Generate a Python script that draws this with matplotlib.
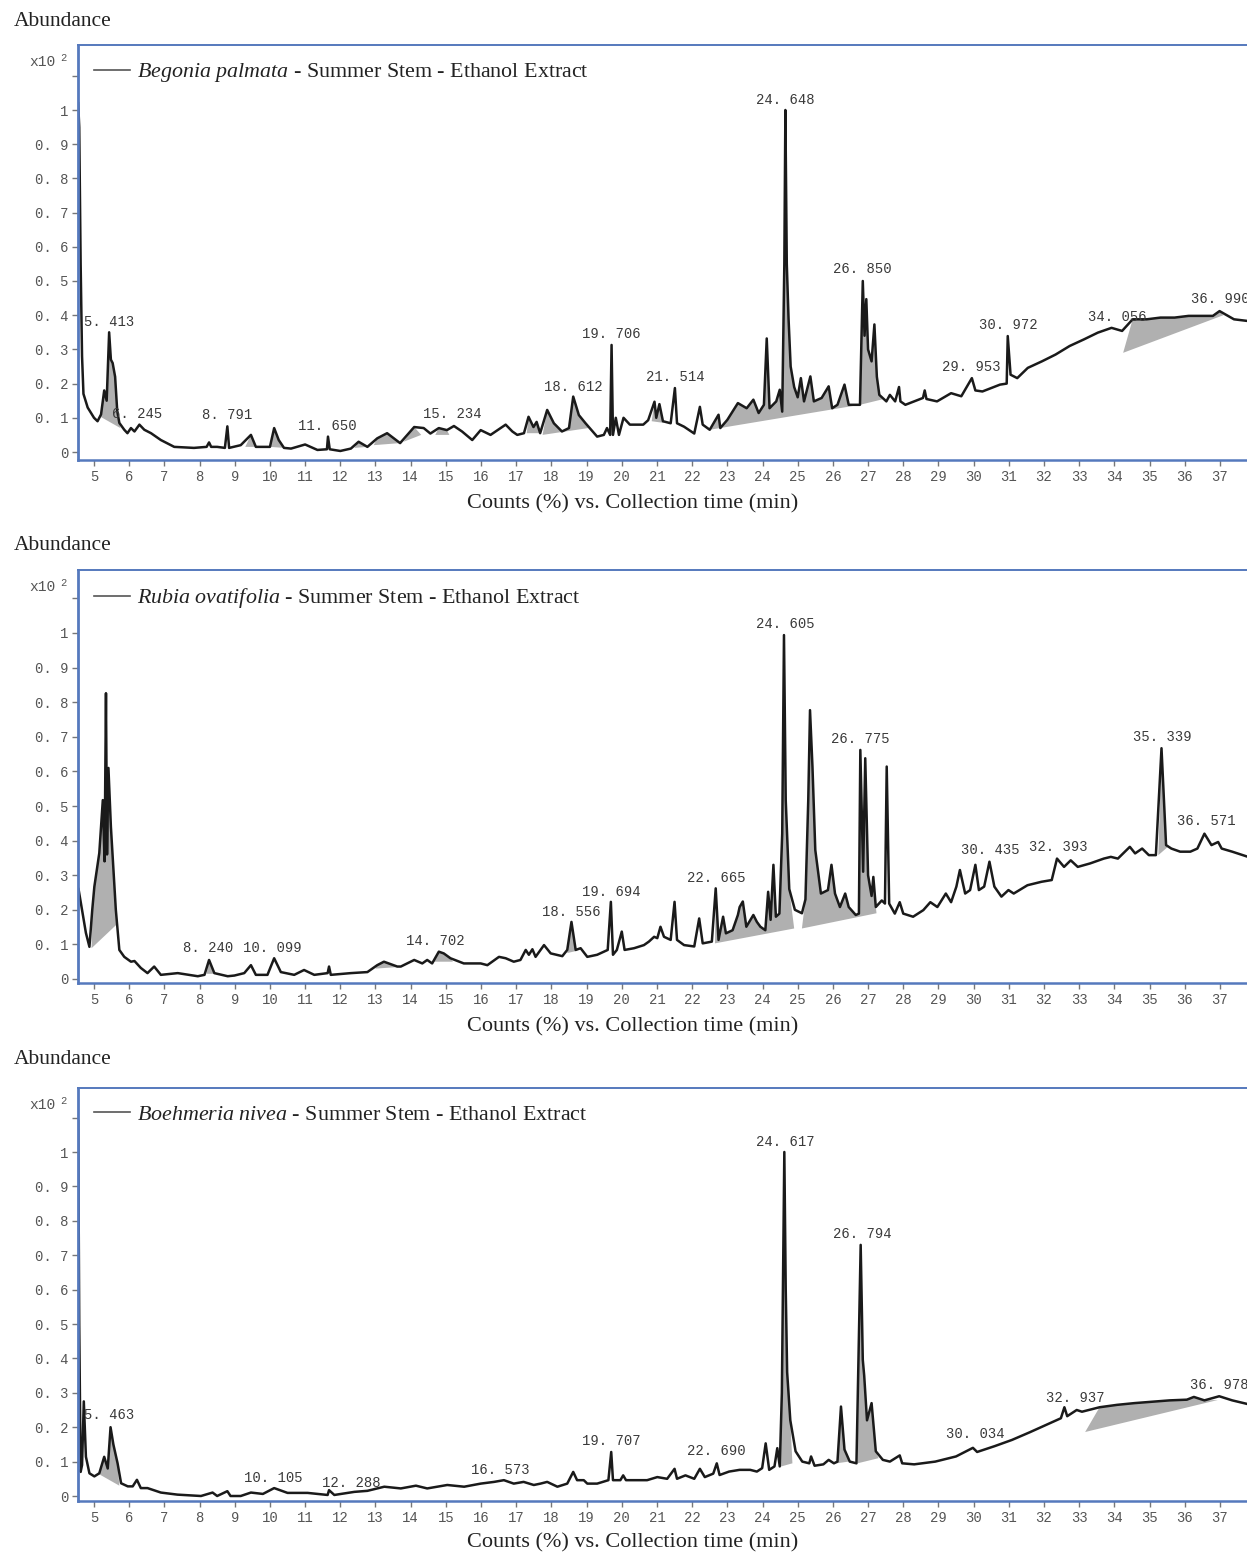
import matplotlib.pyplot as plt
from matplotlib.ticker import FixedLocator, FixedFormatter

plt.rcParams["mathtext.fontset"] = "custom"
plt.rcParams["mathtext.it"] = "Liberation Serif:italic"
plt.rcParams["mathtext.rm"] = "Liberation Serif"

# chromatogram traces: (collection time [min], abundance x10^2)
begonia_trace = [
    (4.55, 1.02), (4.58, 0.95), (4.62, 0.55), (4.66, 0.28), (4.70, 0.17), (4.82, 0.13),
    (5.0, 0.10), (5.1, 0.09), (5.2, 0.11), (5.29, 0.18), (5.36, 0.15), (5.43, 0.35),
    (5.48, 0.27), (5.53, 0.26), (5.6, 0.22), (5.66, 0.12), (5.72, 0.085), (5.86, 0.065),
    (5.95, 0.055), (6.05, 0.07), (6.15, 0.06), (6.29, 0.08), (6.43, 0.065), (6.62, 0.055),
    (6.9, 0.035), (7.28, 0.015), (7.84, 0.012), (8.2, 0.015), (8.27, 0.028), (8.33, 0.015),
    (8.5, 0.015), (8.72, 0.012), (8.79, 0.075), (8.84, 0.012), (9.17, 0.02), (9.46, 0.05),
    (9.6, 0.015), (10.0, 0.015), (10.12, 0.07), (10.25, 0.035), (10.4, 0.012), (10.6, 0.01),
    (11.0, 0.022), (11.35, 0.006), (11.62, 0.008), (11.65, 0.045), (11.7, 0.008), (12.0, 0.003),
    (12.3, 0.01), (12.52, 0.03), (12.77, 0.015), (13.05, 0.04), (13.33, 0.055), (13.7, 0.026),
    (14.1, 0.073), (14.37, 0.07), (14.56, 0.054), (14.8, 0.07), (15.03, 0.064), (15.23, 0.076),
    (15.46, 0.06), (15.75, 0.035), (15.99, 0.064), (16.27, 0.05), (16.7, 0.08), (16.89, 0.06),
    (17.03, 0.05), (17.22, 0.055), (17.35, 0.103), (17.49, 0.073), (17.58, 0.088), (17.68, 0.055),
    (17.88, 0.123), (18.07, 0.084), (18.3, 0.06), (18.5, 0.07), (18.62, 0.162), (18.78, 0.108),
    (18.97, 0.084), (19.3, 0.045), (19.49, 0.05), (19.58, 0.07), (19.67, 0.05), (19.71, 0.313),
    (19.75, 0.05), (19.83, 0.1), (19.92, 0.05), (20.05, 0.1), (20.23, 0.08), (20.61, 0.08),
    (20.75, 0.093), (20.93, 0.147), (20.98, 0.1), (21.07, 0.14), (21.17, 0.09), (21.39, 0.084),
    (21.51, 0.187), (21.57, 0.084), (21.77, 0.074), (22.06, 0.054), (22.22, 0.132), (22.3, 0.08),
    (22.5, 0.065), (22.75, 0.109), (22.8, 0.07), (23.0, 0.094), (23.3, 0.143), (23.55, 0.128),
    (23.74, 0.153), (23.89, 0.114), (24.04, 0.138), (24.12, 0.332), (24.2, 0.128), (24.39, 0.148),
    (24.49, 0.182), (24.56, 0.118), (24.62, 0.55), (24.65, 1.0), (24.69, 0.55), (24.74, 0.39),
    (24.8, 0.25), (24.9, 0.19), (25.0, 0.16), (25.09, 0.216), (25.18, 0.148), (25.36, 0.221),
    (25.46, 0.148), (25.68, 0.158), (25.88, 0.192), (25.98, 0.128), (26.13, 0.138), (26.33, 0.197),
    (26.45, 0.138), (26.77, 0.138), (26.85, 0.5), (26.9, 0.34), (26.95, 0.447), (27.0, 0.3),
    (27.1, 0.265), (27.18, 0.373), (27.25, 0.22), (27.32, 0.167), (27.52, 0.148), (27.62, 0.167),
    (27.77, 0.148), (27.88, 0.19), (27.92, 0.148), (28.06, 0.138), (28.56, 0.158), (28.61, 0.18),
    (28.66, 0.155), (28.96, 0.148), (29.36, 0.172), (29.65, 0.163), (29.95, 0.216), (30.05, 0.18),
    (30.25, 0.177), (30.75, 0.197), (30.94, 0.2), (30.97, 0.339), (31.05, 0.226), (31.24, 0.216),
    (31.54, 0.246), (31.94, 0.265), (32.33, 0.285), (32.73, 0.31), (33.13, 0.329), (33.53, 0.349),
    (33.92, 0.363), (34.22, 0.354), (34.52, 0.388), (34.92, 0.388), (35.31, 0.393), (35.71, 0.393),
    (36.11, 0.398), (36.5, 0.398), (36.8, 0.398), (36.99, 0.412), (37.4, 0.388), (37.8, 0.383),
]

rubia_trace = [
    (4.56, 0.26), (4.77, 0.133), (4.87, 0.093), (4.95, 0.2), (5.01, 0.267), (5.15, 0.364),
    (5.25, 0.517), (5.3, 0.34), (5.34, 0.826), (5.37, 0.36), (5.41, 0.61), (5.48, 0.44),
    (5.62, 0.2), (5.72, 0.084), (5.86, 0.064), (6.05, 0.05), (6.15, 0.052), (6.33, 0.032),
    (6.52, 0.017), (6.71, 0.036), (6.9, 0.012), (7.38, 0.017), (7.95, 0.008), (8.14, 0.012),
    (8.27, 0.055), (8.42, 0.017), (8.8, 0.008), (8.99, 0.01), (9.27, 0.017), (9.46, 0.04),
    (9.6, 0.012), (9.93, 0.012), (10.12, 0.06), (10.31, 0.02), (10.69, 0.012), (10.97, 0.026),
    (11.26, 0.012), (11.64, 0.017), (11.68, 0.036), (11.73, 0.012), (12.3, 0.017), (12.77, 0.02),
    (13.05, 0.04), (13.24, 0.05), (13.62, 0.036), (13.72, 0.036), (14.1, 0.055), (14.33, 0.045),
    (14.47, 0.055), (14.61, 0.045), (14.8, 0.079), (14.94, 0.074), (15.13, 0.06), (15.51, 0.045),
    (15.99, 0.045), (16.18, 0.04), (16.51, 0.064), (16.7, 0.06), (16.93, 0.05), (17.12, 0.055),
    (17.27, 0.084), (17.36, 0.07), (17.46, 0.086), (17.55, 0.064), (17.79, 0.098), (17.98, 0.074),
    (18.31, 0.066), (18.45, 0.084), (18.57, 0.165), (18.69, 0.084), (18.83, 0.089), (19.02, 0.064),
    (19.3, 0.07), (19.6, 0.084), (19.69, 0.223), (19.75, 0.07), (19.86, 0.084), (20.0, 0.137),
    (20.08, 0.084), (20.35, 0.089), (20.63, 0.098), (20.77, 0.108), (20.92, 0.122), (21.01, 0.118),
    (21.1, 0.151), (21.2, 0.122), (21.39, 0.113), (21.5, 0.223), (21.57, 0.113), (21.77, 0.098),
    (22.06, 0.094), (22.2, 0.175), (22.3, 0.103), (22.56, 0.108), (22.67, 0.262), (22.75, 0.113),
    (22.88, 0.18), (22.96, 0.132), (23.15, 0.141), (23.3, 0.185), (23.35, 0.208), (23.44, 0.224),
    (23.54, 0.151), (23.74, 0.185), (23.84, 0.165), (23.94, 0.151), (24.08, 0.141), (24.16, 0.252),
    (24.23, 0.171), (24.31, 0.33), (24.38, 0.18), (24.48, 0.189), (24.56, 0.42), (24.61, 0.994),
    (24.66, 0.517), (24.76, 0.26), (24.92, 0.2), (25.12, 0.19), (25.22, 0.23), (25.3, 0.517),
    (25.35, 0.777), (25.42, 0.613), (25.5, 0.373), (25.66, 0.247), (25.86, 0.257), (25.96, 0.33),
    (26.06, 0.247), (26.2, 0.208), (26.35, 0.247), (26.45, 0.208), (26.65, 0.185), (26.74, 0.189),
    (26.78, 0.662), (26.86, 0.31), (26.92, 0.638), (27.0, 0.3), (27.1, 0.24), (27.15, 0.295),
    (27.22, 0.208), (27.39, 0.227), (27.48, 0.218), (27.53, 0.614), (27.6, 0.218), (27.76, 0.189),
    (27.9, 0.222), (28.0, 0.189), (28.28, 0.18), (28.57, 0.199), (28.77, 0.222), (28.97, 0.208),
    (29.21, 0.247), (29.36, 0.222), (29.51, 0.267), (29.61, 0.315), (29.76, 0.247), (29.9, 0.257),
    (30.05, 0.33), (30.15, 0.257), (30.3, 0.267), (30.45, 0.339), (30.59, 0.267), (30.79, 0.238),
    (30.99, 0.257), (31.14, 0.247), (31.53, 0.271), (31.93, 0.281), (32.22, 0.286), (32.37, 0.348),
    (32.57, 0.324), (32.76, 0.343), (32.96, 0.324), (33.31, 0.334), (33.7, 0.348), (33.9, 0.353),
    (34.1, 0.348), (34.44, 0.382), (34.59, 0.363), (34.79, 0.377), (34.98, 0.358), (35.18, 0.358),
    (35.34, 0.667), (35.47, 0.387), (35.62, 0.377), (35.87, 0.368), (36.16, 0.368), (36.36, 0.377),
    (36.56, 0.42), (36.76, 0.387), (36.95, 0.396), (37.05, 0.377), (37.35, 0.368), (37.8, 0.353),
]

boehmeria_trace = [
    (4.55, 1.09), (4.58, 0.5), (4.62, 0.07), (4.66, 0.09), (4.71, 0.275), (4.77, 0.114),
    (4.87, 0.066), (5.01, 0.057), (5.15, 0.066), (5.29, 0.114), (5.39, 0.08), (5.47, 0.2),
    (5.55, 0.15), (5.67, 0.095), (5.77, 0.037), (5.96, 0.028), (6.1, 0.028), (6.22, 0.047),
    (6.33, 0.023), (6.52, 0.023), (6.9, 0.01), (7.37, 0.004), (8.04, 0.0), (8.37, 0.01),
    (8.5, 0.0), (8.79, 0.014), (8.88, 0.0), (9.17, 0.0), (9.46, 0.01), (9.8, 0.006),
    (10.12, 0.023), (10.5, 0.009), (11.07, 0.009), (11.64, 0.003), (11.68, 0.017), (11.83, 0.003),
    (12.4, 0.012), (12.77, 0.015), (13.25, 0.027), (13.72, 0.022), (14.15, 0.03), (14.47, 0.022),
    (15.04, 0.032), (15.52, 0.027), (15.99, 0.036), (16.37, 0.041), (16.65, 0.046), (16.93, 0.036),
    (17.21, 0.041), (17.5, 0.032), (17.69, 0.036), (17.88, 0.041), (18.17, 0.027), (18.45, 0.036),
    (18.62, 0.07), (18.73, 0.046), (18.92, 0.046), (19.02, 0.036), (19.3, 0.036), (19.62, 0.046),
    (19.7, 0.128), (19.75, 0.046), (19.96, 0.046), (20.04, 0.06), (20.12, 0.046), (20.72, 0.046),
    (21.01, 0.055), (21.29, 0.05), (21.5, 0.079), (21.57, 0.05), (21.81, 0.06), (22.06, 0.05),
    (22.22, 0.079), (22.36, 0.055), (22.6, 0.065), (22.7, 0.095), (22.78, 0.061), (23.05, 0.071),
    (23.35, 0.076), (23.65, 0.076), (23.84, 0.071), (23.99, 0.081), (24.09, 0.153), (24.19, 0.076),
    (24.34, 0.086), (24.42, 0.139), (24.49, 0.086), (24.55, 0.3), (24.62, 1.0), (24.66, 0.6),
    (24.7, 0.36), (24.79, 0.22), (24.94, 0.13), (25.13, 0.1), (25.33, 0.095), (25.38, 0.115),
    (25.48, 0.088), (25.73, 0.092), (25.88, 0.105), (26.03, 0.095), (26.13, 0.1), (26.23, 0.26),
    (26.33, 0.135), (26.48, 0.1), (26.67, 0.095), (26.79, 0.73), (26.85, 0.396), (26.89, 0.35),
    (26.97, 0.22), (27.1, 0.27), (27.22, 0.13), (27.42, 0.105), (27.62, 0.1), (27.9, 0.118),
    (27.97, 0.095), (28.31, 0.092), (28.91, 0.1), (29.5, 0.115), (29.98, 0.14), (30.1, 0.128),
    (30.6, 0.145), (31.09, 0.163), (31.59, 0.185), (32.09, 0.208), (32.48, 0.226), (32.58, 0.258),
    (32.66, 0.232), (32.93, 0.25), (33.08, 0.245), (33.58, 0.258), (34.08, 0.265), (34.57, 0.27),
    (35.07, 0.274), (35.57, 0.278), (36.06, 0.28), (36.26, 0.288), (36.56, 0.278), (36.98, 0.29),
    (37.35, 0.278), (37.8, 0.267),
]

# integrated areas: (start time, end time, baseline at start, baseline at end)
begonia_areas = [
    (5.15, 5.75, 0.105, 0.07), (9.3, 9.6, 0.015, 0.015), (10.0, 10.4, 0.015, 0.012),
    (12.4, 12.77, 0.012, 0.015), (12.95, 13.7, 0.02, 0.026), (13.8, 14.3, 0.03, 0.05),
    (14.7, 15.1, 0.05, 0.05), (17.3, 17.68, 0.055, 0.055), (17.75, 19.05, 0.05, 0.07),
    (20.85, 21.2, 0.09, 0.085), (22.5, 26.77, 0.065, 0.138), (26.77, 27.45, 0.138, 0.155),
    (34.25, 37.1, 0.29, 0.40),
]
rubia_areas = [
    (4.93, 5.67, 0.089, 0.16), (8.2, 8.4, 0.015, 0.015), (13.0, 13.7, 0.03, 0.035),
    (14.65, 15.2, 0.05, 0.05), (18.45, 18.75, 0.075, 0.082), (22.65, 24.9, 0.103, 0.146),
    (25.12, 27.24, 0.146, 0.19), (35.25, 35.5, 0.358, 0.38),
]
boehmeria_areas = [
    (5.1, 5.72, 0.066, 0.03), (24.5, 24.85, 0.085, 0.095), (26.1, 26.45, 0.095, 0.1),
    (26.7, 27.3, 0.095, 0.11), (33.17, 36.94, 0.186, 0.279),
]

# peak labels: (text, time, abundance)
begonia_labels = [
    ("5. 413", 5.43, 0.38), ("6. 245", 6.22, 0.111), ("8. 791", 8.78, 0.108),
    ("11. 650", 11.64, 0.076), ("15. 234", 15.19, 0.111), ("18. 612", 18.63, 0.19),
    ("19. 706", 19.71, 0.345), ("21. 514", 21.52, 0.219), ("24. 648", 24.65, 1.03),
    ("26. 850", 26.83, 0.535), ("29. 953", 29.93, 0.249), ("30. 972", 31.0, 0.371),
    ("34. 056", 34.07, 0.395), ("36. 990", 37.0, 0.447),
]
rubia_labels = [
    ("8. 240", 8.24, 0.09), ("10. 099", 10.08, 0.09), ("14. 702", 14.71, 0.11),
    ("18. 556", 18.57, 0.194), ("19. 694", 19.71, 0.251), ("22. 665", 22.69, 0.292),
    ("24. 605", 24.65, 1.026), ("26. 775", 26.78, 0.694), ("30. 435", 30.47, 0.373),
    ("32. 393", 32.4, 0.382), ("35. 339", 35.35, 0.70), ("36. 571", 36.6, 0.457),
]
boehmeria_labels = [
    ("5. 463", 5.43, 0.235), ("10. 105", 10.11, 0.052), ("12. 288", 12.3, 0.038),
    ("16. 573", 16.56, 0.076), ("19. 707", 19.71, 0.16), ("22. 690", 22.69, 0.131),
    ("24. 617", 24.65, 1.03), ("26. 794", 26.83, 0.762), ("30. 034", 30.04, 0.18),
    ("32. 937", 32.88, 0.285), ("36. 978", 36.97, 0.323),
]

species = ["Begonia palmata", "Rubia ovatifolia", "Boehmeria nivea"]
sample = " - Summer Stem - Ethanol Extract"

y_ticks = [0, 0.1, 0.2, 0.3, 0.4, 0.5, 0.6, 0.7, 0.8, 0.9, 1.0, 1.1]
y_ticklabels = ["0", "0. 1", "0. 2", "0. 3", "0. 4", "0. 5", "0. 6", "0. 7", "0. 8",
                "0. 9", "1", ""]
x_ticks = list(range(5, 38))

panels = [
    (species[0], begonia_trace, begonia_areas, begonia_labels),
    (species[1], rubia_trace, rubia_areas, rubia_labels),
    (species[2], boehmeria_trace, boehmeria_areas, boehmeria_labels),
]

W, H = 1247, 1553
fig = plt.figure(figsize=(W / 100, H / 100), dpi=100)

# pixel layout: (axes top, axes bottom, pixel of y=0, pixels per unit, "Abundance" y, xlabel y)
layout = [
    (45, 460, 452, 342, 22, 504),
    (570, 983, 979, 346, 545, 1027),
    (1088, 1501, 1496, 344, 1060, 1543),
]

mono = "Liberation Mono"
serif = "Liberation Serif"
spine_blue = "#5579bd"

for (name, trace, areas, labels), (top, bot, y0, ppu, ab_y, xl_y) in zip(panels, layout):
    left = 78
    ax = fig.add_axes([left / W, 1 - bot / H, 1 - left / W, (bot - top) / H])
    t = [p[0] for p in trace]
    v = [p[1] for p in trace]

    for ts, te, bs, be in areas:
        seg = [(a, b) for a, b in trace if ts < a < te]
        xs = [ts] + [a for a, _ in seg] + [te]
        ys = [bs] + [b for _, b in seg] + [be]
        ax.fill(xs, ys, color="#b0b0b0", lw=0, zorder=1)

    ax.plot(t, v, color="#1a1a1a", lw=1.8, zorder=2,
            label=r"$\mathit{" + name.replace(" ", r"\ ") + "}$" + sample)

    for txt, lt, lv in labels:
        ax.text(lt, lv, txt, ha="center", va="center", fontsize=10,
                family=mono, color="#3a3a3a", zorder=3)

    ax.set_xlim(4.545, 37.77)
    ax.set_ylim(-(bot - y0) / ppu, (y0 - top) / ppu)
    ax.xaxis.set_major_locator(FixedLocator(x_ticks))
    ax.xaxis.set_major_formatter(FixedFormatter([str(x) for x in x_ticks]))
    ax.yaxis.set_major_locator(FixedLocator(y_ticks))
    ax.yaxis.set_major_formatter(FixedFormatter(y_ticklabels))
    ax.tick_params(axis="both", direction="out", length=4, width=1, color="#777777",
                   labelcolor="#555555", labelsize=10, pad=3)
    for lab in ax.get_xticklabels() + ax.get_yticklabels():
        lab.set_family(mono)

    for side in ["top", "bottom", "left"]:
        ax.spines[side].set_color(spine_blue)
    ax.spines["left"].set_linewidth(2.0)
    ax.spines["bottom"].set_linewidth(1.8)
    ax.spines["top"].set_linewidth(1.4)
    ax.spines["right"].set_visible(False)

    leg = ax.legend(loc="upper left", frameon=False, handlelength=1.6,
                    handletextpad=0.33, borderaxespad=0.45, borderpad=0.3,
                    prop={"family": serif, "size": 15.8})
    for h in leg.get_lines():
        h.set_color("#555555")
        h.set_linewidth(1.2)
    for txt in leg.get_texts():
        txt.set_color("#222222")

    # multiplier label next to the top y tick
    fig.text(56 / W, 1 - (top + 17) / H, "x10", ha="right", va="center",
             fontsize=10.5, family=mono, color="#555555")
    fig.text(60 / W, 1 - (top + 13) / H, "2", ha="left", va="center",
             fontsize=7.5, family=mono, color="#555555")

    fig.text(14 / W, 1 - ab_y / H, "Abundance", ha="left", va="center",
             fontsize=15.5, family=serif, color="#222222")
    fig.text(633 / W, 1 - xl_y / H, "Counts (%) vs. Collection time (min)",
             ha="center", va="center", fontsize=16, family=serif, color="#222222")

fig.savefig("out.png", dpi=100)
